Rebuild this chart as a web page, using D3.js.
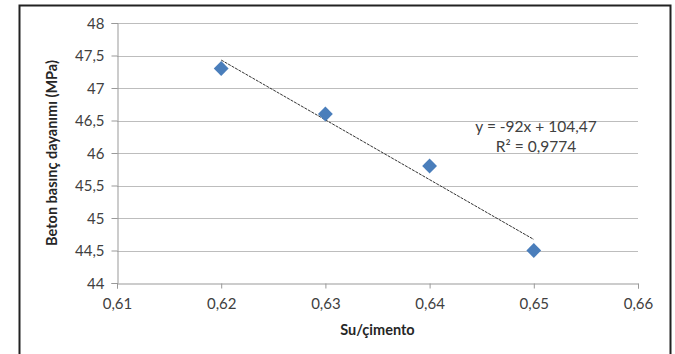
<!DOCTYPE html>
<html>
<head>
<meta charset="utf-8">
<script src="https://cdn.jsdelivr.net/npm/d3@7"></script>
<style>
  body { margin: 0; background: #fff; }
  svg text { font-family: Lato, "Open Sans", sans-serif; fill: #404040; }
</style>
</head>
<body>
<div id="chart"></div>
<script>
// data
const suCimento = [0.62, 0.63, 0.64, 0.65];
const dayanim = [47.3, 46.6, 45.8, 44.5];
const xTicks = [0.61, 0.62, 0.63, 0.64, 0.65, 0.66];
const yTicks = [44, 44.5, 45, 45.5, 46, 46.5, 47, 47.5, 48];
const trendSlope = -92;
const trendIntercept = 104.47;
const trendText = ['y = -92x + 104,47', 'R² = 0,9774'];

const width = 675, height = 354;
const margin = { top: 23, right: 37, bottom: 71, left: 117 };

const svg = d3.select('#chart').append('svg')
  .attr('width', width)
  .attr('height', height);

// outer frame (no bottom edge visible)
svg.append('path')
  .attr('d', `M19.5,${height} V5.5 H670.5 V${height}`)
  .attr('fill', 'none')
  .attr('stroke', '#222')
  .attr('stroke-width', 2);

const x = d3.scaleLinear().domain([0.61, 0.66]).range([margin.left, width - margin.right]);
const y = d3.scaleLinear().domain([44, 48]).range([height - margin.bottom, margin.top]);

const fmt = d => String(d).replace('.', ',');

// gridlines
svg.append('g')
  .selectAll('line')
  .data(yTicks.slice(1))
  .join('line')
  .attr('x1', x(0.61)).attr('x2', x(0.66))
  .attr('y1', d => Math.round(y(d)) + 0.5).attr('y2', d => Math.round(y(d)) + 0.5)
  .attr('stroke', '#bdbdbd');

const xAxis = svg.append('g')
  .attr('transform', `translate(0, ${Math.round(y(44)) + 0.5})`)
  .call(d3.axisBottom(x).tickValues(xTicks).tickFormat(fmt).tickSize(5).tickPadding(10));
const yAxis = svg.append('g')
  .attr('transform', `translate(${Math.round(x(0.61)) + 0.5}, 0)`)
  .call(d3.axisLeft(y).tickValues(yTicks).tickFormat(fmt).tickSize(6).tickPadding(7));

[xAxis, yAxis].forEach(a => {
  a.select('.domain').attr('stroke', '#999');
  a.selectAll('.tick line').attr('stroke', '#999');
  a.selectAll('.tick text').attr('font-size', 15).style('font-family', 'Lato, sans-serif').attr('fill', '#404040');
});
yAxis.selectAll('.tick text').attr('dy', '0.35em');

// trendline over data range
const tx = d3.extent(suCimento);
svg.append('line')
  .attr('x1', x(tx[0])).attr('y1', y(trendSlope * tx[0] + trendIntercept))
  .attr('x2', x(tx[1])).attr('y2', y(trendSlope * tx[1] + trendIntercept))
  .attr('stroke', '#333')
  .attr('stroke-width', 1)
  .attr('stroke-dasharray', '3,1');

// markers
svg.append('g')
  .selectAll('path')
  .data(suCimento.map((d, i) => [d, dayanim[i]]))
  .join('path')
  .attr('d', d3.symbol(d3.symbolSquare, 110))
  .attr('transform', d => `translate(${x(d[0])}, ${y(d[1])}) rotate(45)`)
  .attr('fill', '#4a7ebb');

// trendline label
svg.append('g')
  .selectAll('text')
  .data(trendText)
  .join('text')
  .attr('x', 536)
  .attr('y', (d, i) => 132 + i * 20)
  .attr('text-anchor', 'middle')
  .attr('font-size', 15.5)
  .text(d => d);

// axis titles
svg.append('text')
  .attr('x', (x(0.61) + x(0.66)) / 2)
  .attr('y', 335)
  .attr('text-anchor', 'middle')
  .attr('font-size', 14.5)
  .attr('font-weight', 'bold')
  .style('fill', '#262626')
  .text('Su/çimento');

svg.append('text')
  .attr('transform', `translate(57, ${(y(44) + y(48)) / 2}) rotate(-90)`)
  .attr('text-anchor', 'middle')
  .attr('font-size', 14.5)
  .attr('font-weight', 'bold')
  .style('fill', '#262626')
  .text('Beton basınç dayanımı (MPa)');
</script>
</body>
</html>
